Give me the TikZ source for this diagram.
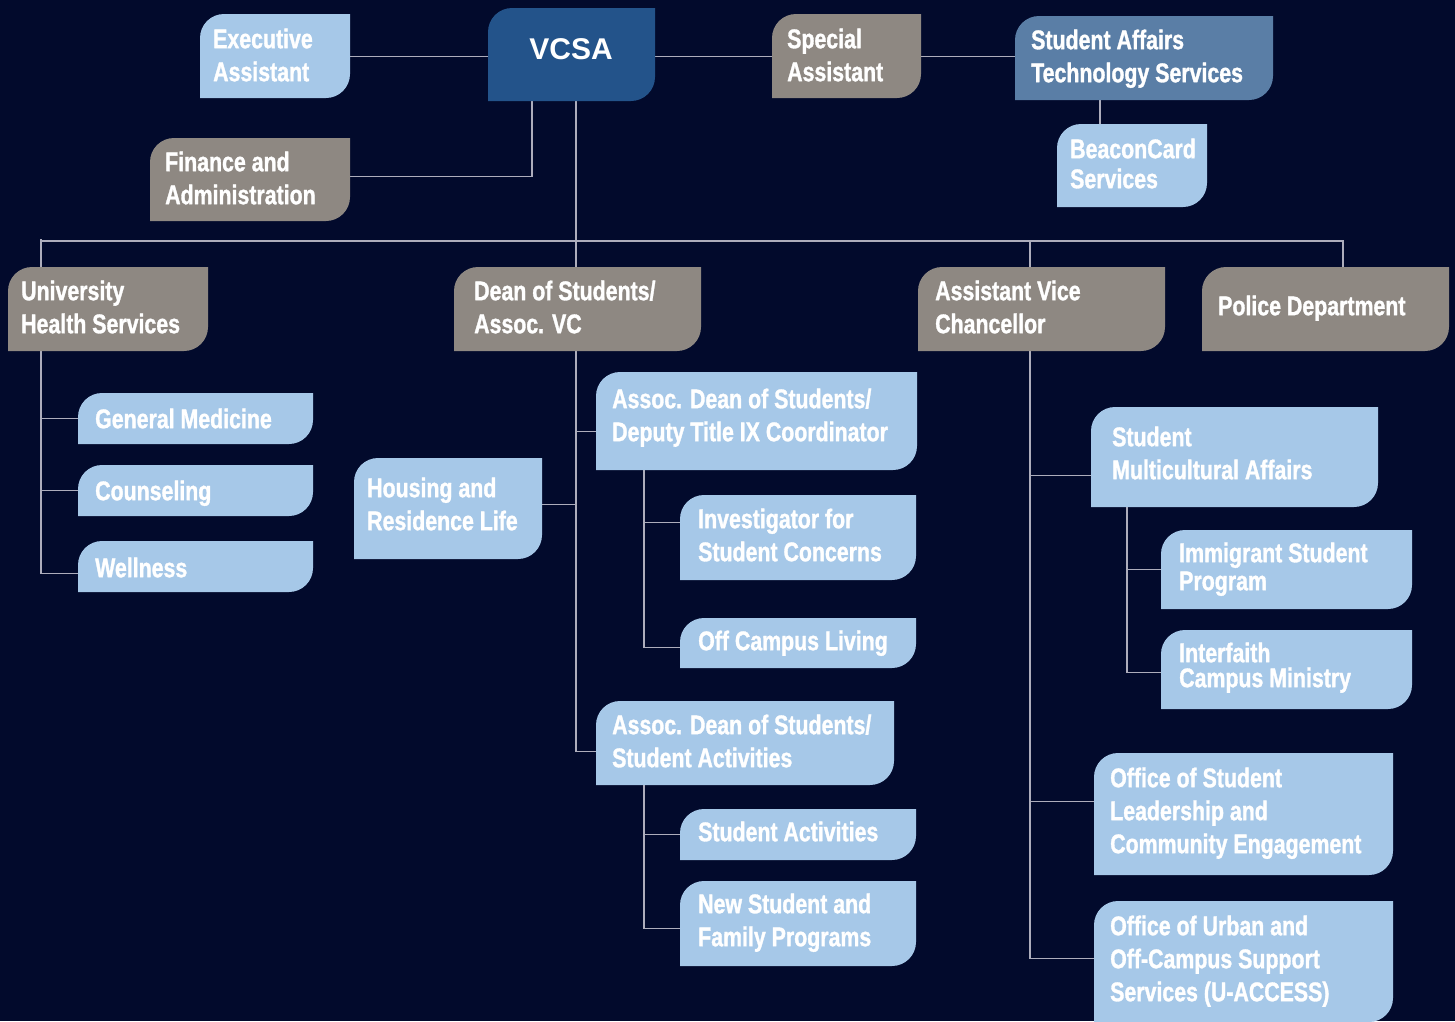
\documentclass[tikz,border=0pt]{standalone}
\usepackage{fontspec}
\newfontfamily\cond{Liberation Sans}[FakeStretch=0.79,FakeBold=1.2]
\newfontfamily\vcsafont{Liberation Sans}
\definecolor{cBG}{HTML}{020A2C}
\definecolor{cLB}{HTML}{A6C8E8}
\definecolor{cGY}{HTML}{8E8882}
\definecolor{cVC}{HTML}{23538A}
\definecolor{cST}{HTML}{5A7EA6}
\definecolor{cLN}{HTML}{ADADBC}
\pgfdeclarelayer{bglayer}
\pgfdeclarelayer{lnlayer}
\pgfsetlayers{bglayer,lnlayer,main}
% name, x1, y1, x2, y2, colour
\newcommand\obox[6]{%
  \fill[#6] (#2,#5) -- (#2,#3+24) .. controls (#2,#3+10.75) and (#2+10.75,#3) .. (#2+24,#3)
    -- (#4,#3) -- (#4,#5-24) .. controls (#4,#5-10.75) and (#4-10.75,#5) .. (#4-24,#5) -- cycle;
  \node[anchor=north west, inner sep=0pt, minimum width={(#4-#2)*1pt}, minimum height={(#5-#3)*1pt}] (#1) at (#2,#3) {};
}
\newcommand\fs{\rule{0pt}{24pt}}
\begin{document}
\begin{tikzpicture}[x=1pt,y=-1pt,
  conn/.style={draw=cLN, line width=1.2pt},
  lbl/.style={font=\cond\bfseries\fontsize{27}{33}\selectfont, text=white, align=left, inner sep=0pt, anchor=north west},
  lsp/.style={font=\cond\bfseries\fontsize{27}{#1}\selectfont}]
\begin{pgfonlayer}{bglayer}
\fill[cBG] (0,0) rectangle (1455,1021);
\end{pgfonlayer}
\useasboundingbox (0,0) rectangle (1455,1021);

% boxes
\obox{ea}{200}{14}{350}{98}{cLB}
\obox{vcsa}{488}{8}{655}{101}{cVC}
\obox{sa}{772}{14}{921}{98}{cGY}
\obox{sats}{1015}{16}{1273}{100}{cST}
\obox{bc}{1057}{124}{1207}{207}{cLB}
\obox{fin}{150}{138}{350}{221}{cGY}
\obox{uhs}{8}{267}{208}{351}{cGY}
\obox{dean}{454}{267}{701}{351}{cGY}
\obox{avc}{918}{267}{1165}{351}{cGY}
\obox{pol}{1202}{267}{1449}{351}{cGY}
\obox{gm}{78}{393}{313}{444}{cLB}
\obox{cou}{78}{465}{313}{516}{cLB}
\obox{wel}{78}{541}{313}{592}{cLB}
\obox{hou}{354}{458}{542}{559}{cLB}
\obox{tix}{596}{372}{917}{470}{cLB}
\obox{inv}{680}{495}{916}{580}{cLB}
\obox{ocl}{680}{618}{916}{668}{cLB}
\obox{adsa}{596}{701}{894}{785}{cLB}
\obox{sact}{680}{809}{916}{860}{cLB}
\obox{nsf}{680}{881}{916}{966}{cLB}
\obox{sma}{1091}{407}{1378}{507}{cLB}
\obox{isp}{1161}{530}{1412}{609}{cLB}
\obox{icm}{1161}{630}{1412}{709}{cLB}
\obox{osl}{1094}{753}{1393}{875}{cLB}
\obox{urb}{1094}{901}{1393}{1022}{cLB}

% texts
\node[font=\vcsafont\bfseries\fontsize{30}{36}\selectfont, text=white, inner sep=0pt, anchor=base] (vcsa-t) at (571,59) {VCSA};
\node[lbl] (ea-t) at (213,24) {\fs Executive\\Assistant};
\node[lbl] (sa-t) at (787,24) {\fs Special\\Assistant};
\node[lbl] (sats-t) at (1031,25) {\fs Student Affairs\\Technology Services};
\node[lbl, lsp=30] (bc-t) at (1070,134) {\fs BeaconCard\\Services};
\node[lbl] (fin-t) at (165,147) {\fs Finance and\\Administration};
\node[lbl] (uhs-t) at (21,276) {\fs University\\Health Services};
\node[lbl] (dean-t) at (474,276) {\fs Dean of Students/\\Assoc. VC};
\node[lbl] (avc-t) at (935,276) {\fs Assistant Vice\\Chancellor};
\node[lbl] (pol-t) at (1218,291) {\fs Police Department};
\node[lbl] (gm-t) at (95,404) {\fs General Medicine};
\node[lbl] (cou-t) at (95,476) {\fs Counseling};
\node[lbl] (wel-t) at (95,553) {\fs Wellness};
\node[lbl] (hou-t) at (367,473) {\fs Housing and\\Residence Life};
\node[lbl] (tix-t) at (612,384) {\fs Assoc. Dean of Students/\\Deputy Title IX Coordinator};
\node[lbl] (inv-t) at (698,504) {\fs Investigator for\\Student Concerns};
\node[lbl] (ocl-t) at (698,626) {\fs Off Campus Living};
\node[lbl] (adsa-t) at (612,710) {\fs Assoc. Dean of Students/\\Student Activities};
\node[lbl] (sact-t) at (698,817) {\fs Student Activities};
\node[lbl] (nsf-t) at (698,889) {\fs New Student and\\Family Programs};
\node[lbl] (sma-t) at (1112,422) {\fs Student\\Multicultural Affairs};
\node[lbl, lsp=28] (isp-t) at (1179,538) {\fs Immigrant Student\\Program};
\node[lbl, lsp=25] (icm-t) at (1179,638) {\fs Interfaith\\Campus Ministry};
\node[lbl] (osl-t) at (1110,763) {\fs Office of Student\\Leadership and\\Community Engagement};
\node[lbl] (urb-t) at (1110,911) {\fs Office of Urban and\\Off-Campus Support\\Services (U-ACCESS)};

% connectors
\begin{pgfonlayer}{lnlayer}
\coordinate (tU) at (41,241);
\coordinate (tP) at (1343,241);
\coordinate (tV) at (576,241);
\coordinate (tA) at (1030,241);
\coordinate (tF) at (532,176);
\coordinate (tB) at (1100,112);
\coordinate (tT) at (644,0);
\coordinate (tS) at (1127,0);
\coordinate (fb) at ([yshift=3.5pt]fin.east);
\coordinate (tixb) at ([yshift=-10pt]tix.west);
\coordinate (houb) at ([yshift=4.5pt]hou.east);
\coordinate (invb) at ([yshift=15.5pt]inv.west);
\coordinate (smab) at ([yshift=-18pt]sma.west);
\coordinate (oslb) at ([yshift=13pt]osl.west);

\draw[conn] (ea.east) -- (ea.east -| vcsa.west);
\draw[conn] (vcsa.east |- sa.west) -- (sa.west);
\draw[conn] (sa.east) -- (sa.east -| sats.west);
\draw[conn] (tB |- sats.south) -- (tB |- bc.north);
\draw[conn] (tF |- vcsa.south) |- (fb);
\draw[conn] (tU |- uhs.north) -- ([yshift=2pt]tU) -- (tU) -- (tP) -- (tP |- pol.north);
\draw[conn] (tV |- vcsa.south) |- ([yshift=-8pt]adsa.west);
\draw[conn] (tA) |- ([yshift=3.5pt]urb.west);
% UHS
\draw[conn] (tU |- uhs.south) |- ([yshift=-6.5pt]wel.west);
\draw[conn] (tU |- gm.west) -- (gm.west);
\draw[conn] (tU |- cou.west) -- (cou.west);
% Dean
\draw[conn] (tV |- tixb) -- (tixb);
\draw[conn] (houb) -- (tV |- houb);
\draw[conn] (tT |- tix.south) |- ([yshift=-4pt]ocl.west);
\draw[conn] (tT |- invb) -- (invb);
\draw[conn] (tT |- adsa.south) |- ([yshift=-4.5pt]nsf.west);
\draw[conn] (tT |- sact.west) -- (sact.west);
% AVC
\draw[conn] (tA |- smab) -- (smab);
\draw[conn] (tA |- oslb) -- (oslb);
\draw[conn] (tS |- sma.south) |- ([yshift=-2.5pt]icm.west);
\draw[conn] (tS |- isp.west) -- (isp.west);
\end{pgfonlayer}
\end{tikzpicture}
\end{document}
